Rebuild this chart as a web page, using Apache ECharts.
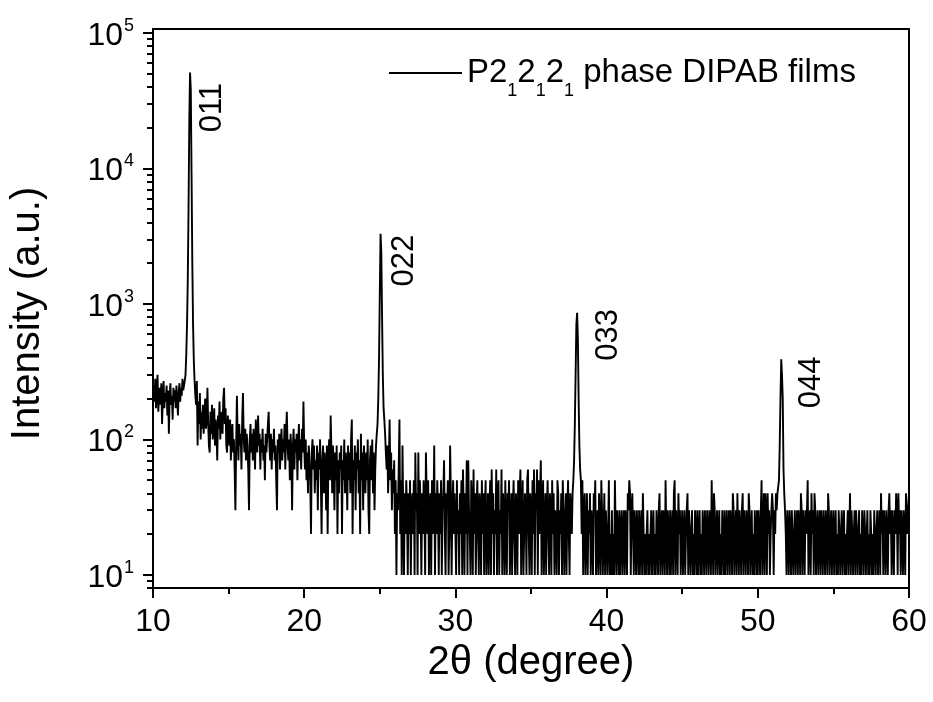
<!DOCTYPE html>
<html><head><meta charset="utf-8">
<script src="https://cdn.jsdelivr.net/npm/echarts@6/dist/echarts.min.js"></script>
<style>html,body{margin:0;padding:0;background:#fff}#c{width:933px;height:702px}</style>
</head><body><div id="c"></div>
<script>
// Scan grid: 2θ from 10° to 60° in 0.05° steps
const startAngle = 10;
const stepAngle = 0.05;

// Intensity (counts), one value per step
const counts10to20 = [
 220,250,190,280,170,230,300,160,210,240,180,260,130,200,270,170,220,190,250,150,
 230,110,200,260,180,210,140,240,190,230,170,250,200,150,220,260,190,240,210,280,
 230,250,270,300,420,700,1500,5000,22000,51000,38000,9000,2000,700,380,270,210,180,
 270,90,190,130,220,100,160,120,180,110,150,200,120,140,240,130,90,80,160,110,180,100,130,170,90,140,110,70,150,120,190,100,140,160,110,200,240,130,170,90,80,150,
 120,90,140,70,110,130,80,100,60,30,90,210,100,70,130,90,110,60,140,220,
 100,80,120,70,110,90,60,30,100,130,80,110,70,120,90,60,140,100,80,150,
 90,110,60,100,80,120,70,90,50,110,80,100,130,160,90,70,110,60,100,80,
 120,70,90,50,30,100,80,110,60,90,120,70,100,80,130,60,110,160,90,70,
 100,50,110,80,30,90,120,60,100,80,110,50,90,130,70,100,60,120,80,190
];
const counts20to30 = [
 90,60,100,50,80,40,90,70,50,20,80,100,60,90,40,70,50,90,30,80,
 60,100,50,20,70,90,40,80,60,30,90,20,70,100,50,150,80,40,90,60,
 30,80,50,90,20,70,40,80,60,90,20,70,50,100,40,80,60,30,90,50,
 80,40,100,140,20,70,50,90,30,80,60,100,40,70,20,110,50,80,30,90,
 60,40,80,50,100,30,20,70,90,50,100,40,80,30,60,90,
 110,130,200,400,1200,3300,2400,800,300,170,140,110,80,
 60,90,40,70,140,50,80,30,60,40,70,
 20,50,10,40,30,60,140,20,50,10,90,30,10,40,20,50,30,10,40,20,
 50,10,30,40,20,50,10,80,30,40,10,80,20,50,30,10,40,20,50,30,
 10,80,40,20,50,10,30,40,10,50,20,30,90,10,40,20,50,30,10,40,
 20,50,10,30,40,70,20,10,40,30,50,10,20,90,40,10,30,50,20,40
];
const counts30to40 = [
 40,10,50,20,30,10,40,20,50,10,60,30,10,40,20,70,10,70,30,20,
 10,50,30,10,60,20,40,10,30,50,20,10,40,30,10,50,20,40,10,30,
 50,10,20,40,10,30,50,10,60,20,40,10,30,20,60,10,40,50,10,30,
 20,60,10,40,30,10,50,20,10,40,30,50,10,20,40,10,30,50,20,10,
 40,30,10,50,20,40,60,10,30,50,10,20,40,30,10,50,60,20,10,40,
 30,10,50,20,60,10,40,30,60,10,50,20,40,70,10,30,50,10,20,40,
 10,30,50,20,10,40,30,10,50,20,40,10,30,20,10,50,40,10,30,20,
 40,10,50,30,10,20,40,10,30,50,20,10,40,30,20,40,
 50,70,130,300,700,860,550,200,90,60,50,
 20,50,10,30,40,10,20,40,10,30,20,40,10,30,20,10,40,30,50,10,20,30,10,40,20,10,50,30,10,20,40,10,30
];
const counts40to50 = [
 20,10,20,50,10,20,10,30,10,20,10,50,20,10,30,20,10,30,10,20,
 30,10,20,30,10,30,20,10,40,30,50,40,10,30,40,20,10,30,20,10,
 30,20,10,30,10,20,30,10,40,20,10,20,10,20,30,10,20,10,20,30,
 10,20,30,10,20,10,30,20,10,30,40,10,20,30,10,30,20,10,50,20,
 10,30,20,10,30,10,20,30,10,40,50,10,30,20,10,40,20,30,10,20,
 30,10,20,30,10,20,30,40,10,30,20,10,20,30,10,20,10,30,20,10,
 30,10,20,30,10,20,10,30,20,10,30,20,10,30,20,10,30,20,10,50,
 20,10,40,30,10,20,30,10,20,30,10,20,10,30,20,10,30,10,20,30,
 10,20,30,10,30,20,10,40,30,10,20,30,10,40,20,10,30,20,10,30,
 40,10,30,20,10,30,20,10,40,30,10,20,30,10,20,10,30,20,10,30
];
const counts50to60 = [
 10,30,20,10,30,50,10,20,40,10,40,30,10,40,20,30,10,20,30,40,
 30,10,30,20,40,30,40,
 40,50,90,200,390,300,200,60,40,
 30,20,10,30,
 20,10,30,20,10,30,30,10,20,30,10,20,30,10,30,20,10,40,30,10,
 30,20,10,30,20,30,50,10,20,30,10,40,20,30,10,40,30,10,20,30,
 10,20,30,10,30,20,10,30,20,10,30,20,10,40,30,10,20,30,10,20,
 30,10,20,30,10,20,10,30,20,10,20,30,10,20,30,10,20,10,20,30,
 10,20,40,10,30,20,10,20,30,10,30,20,10,20,30,10,20,10,30,20,
 10,30,20,10,20,30,10,20,10,30,20,10,20,10,30,20,10,20,30,10,
 20,30,10,40,20,30,10,30,20,10,30,20,10,30,40,20,30,10,30,20,
 10,30,20,40,30,10,40,20,30,10,30,20,10,30,20,10,40,30,20,30,
 40
];

// Axis ticks and labels
const xTicks = [10, 20, 30, 40, 50, 60];
const yMajorTicks = [10, 100, 1000, 10000, 100000];
const yMinorTicks = [8, 9, 20, 30, 40, 50, 60, 70, 80, 90, 200, 300, 400, 500, 600, 700, 800, 900,
  2000, 3000, 4000, 5000, 6000, 7000, 8000, 9000, 20000, 30000, 40000, 50000, 60000, 70000, 80000, 90000];

// Peak annotations (Miller indices)
const peakNames = ['011', '022', '033', '044'];
const peakAngles = [12.45, 25.05, 38.05, 51.55];
const peakHeights = [51000, 3300, 860, 390];

const seriesName = 'P2\u20812\u20812\u2081 phase DIPAB films';

const allCounts = counts10to20.concat(counts20to30, counts30to40, counts40to50, counts50to60);
const points = allCounts.map((v, i) => [+(startAngle + i * stepAngle).toFixed(2), v]);

const FONT = '"Liberation Sans", Arial, Helvetica, sans-serif';
// screen offsets (dx, dy) of the rotated peak labels from the peak tops
const labelShift = [[22, 35], [24, 27], [31, 22], [30, 23]];

const chart = echarts.init(document.getElementById('c'), null, {renderer: 'canvas'});
chart.setOption({
  animation: false,
  backgroundColor: '#fff',
  grid: {left: 153, right: 24, top: 29, bottom: 114, show: true, borderColor: '#000', borderWidth: 2, containLabel: false},
  legend: {
    left: 389, top: 46, padding: 0, itemWidth: 73, itemHeight: 2, icon: 'rect',
    data: [seriesName],
    itemStyle: {color: '#000'},
    formatter: () => '{n|P2}{s|1}{n|2}{s|1}{n|2}{s|1}{n| phase DIPAB films}',
    textStyle: {
      color: '#000', fontFamily: FONT,
      rich: {
        n: {fontSize: 33, lineHeight: 34, fontFamily: FONT, color: '#000'},
        s: {fontSize: 18, lineHeight: 18, padding: [36, 0, 0, 0], fontFamily: FONT, color: '#000'}
      }
    }
  },
  xAxis: {
    type: 'value', min: 10, max: 60, interval: 10,
    name: '2\u03b8 (degree)', nameLocation: 'middle', nameGap: 50,
    nameTextStyle: {fontSize: 40, fontFamily: FONT, color: '#000'},
    axisLine: {show: true, lineStyle: {color: '#000', width: 2}},
    axisTick: {show: true, inside: false, length: 10, lineStyle: {color: '#000', width: 2}},
    minorTick: {show: true, splitNumber: 2, length: 6, lineStyle: {color: '#000', width: 2}},
    axisLabel: {fontSize: 32, fontFamily: FONT, color: '#000', margin: 18,
      customValues: xTicks},
    splitLine: {show: false}, minorSplitLine: {show: false}
  },
  yAxis: [{
    type: 'log', logBase: 10, min: 8, max: 107000,
    name: 'Intensity (a.u.)', nameLocation: 'middle', nameGap: 105,
    nameTextStyle: {fontSize: 40, fontFamily: FONT, color: '#000', padding: [0, 10, 0, 0]},
    axisLine: {show: true, lineStyle: {color: '#000', width: 2}},
    axisTick: {show: true, inside: false, length: 10, lineStyle: {color: '#000', width: 2}, customValues: yMajorTicks},
    axisLabel: {
      customValues: yMajorTicks, margin: 19,
      formatter: v => '{b|10}{s|' + Math.round(Math.log10(v)) + '}',
      rich: {
        b: {fontSize: 32, lineHeight: 32, padding: [6, 0, 0, 0], fontFamily: FONT, color: '#000'},
        s: {fontSize: 18, lineHeight: 18, padding: [0, 0, 14, 1], fontFamily: FONT, color: '#000'}
      }
    },
    splitLine: {show: false}
  }, {
    type: 'log', logBase: 10, min: 8, max: 107000, position: 'left',
    axisLine: {show: false},
    axisTick: {show: true, inside: false, length: 6, lineStyle: {color: '#000', width: 2}, customValues: yMinorTicks},
    axisLabel: {show: false},
    splitLine: {show: false}
  }],
  series: [{
    name: seriesName, type: 'line', data: points, yAxisIndex: 0,
    showSymbol: false, symbol: 'none',
    lineStyle: {color: '#000', width: 1.9}, itemStyle: {color: '#000'},
    markPoint: {
      symbol: 'circle', symbolSize: 0, silent: true, animation: false,
      label: {show: true, position: 'inside', rotate: 90, formatter: '{b}', fontSize: 31, fontFamily: FONT, color: '#000'},
      // label offset is applied in the rotated frame: [-dy, dx]
      data: peakNames.map((n, i) => ({name: n, coord: [peakAngles[i], peakHeights[i]],
        label: {offset: [-labelShift[i][1], labelShift[i][0]]}}))
    }
  }]
});
</script></body></html>
